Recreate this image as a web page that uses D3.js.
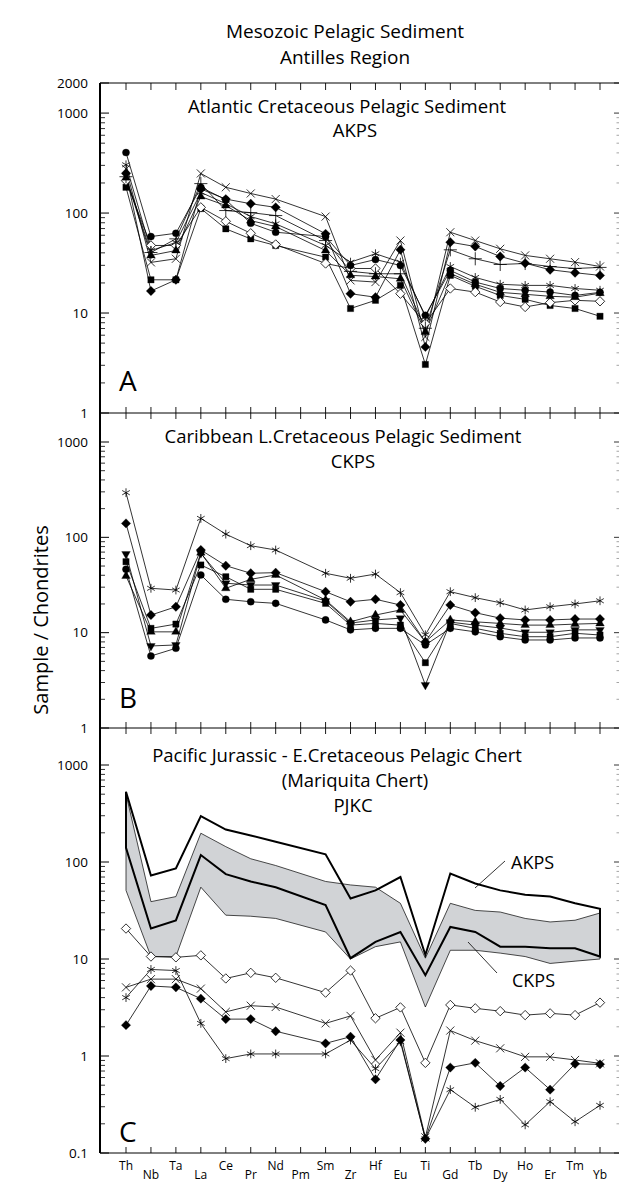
<!DOCTYPE html>
<html>
<head>
<meta charset="utf-8">
<style>
body { margin: 0; background: #fff; }
svg { display: block; font-family: "Open Sans", "Noto Sans", sans-serif; }
.sline { fill: none; stroke: #000; stroke-width: 0.8; }
.axis line, .axis path { stroke: #000; }
</style>
</head>
<body>
<svg width="619" height="1182"></svg>
<script src="https://d3js.org/d3.v7.min.js"></script>
<script>
var elements = ["Th","Nb","Ta","La","Ce","Pr","Nd","Pm","Sm","Zr","Hf","Eu","Ti","Gd","Tb","Dy","Ho","Er","Tm","Yb"];

// A: Atlantic Cretaceous pelagic sediment (AKPS)
var akpsCross       = [277, 32.1, 34.9, 249, 181, 157, 138, null, 92.2, 21.2, 20.4, 53.1, 5.77, 64.3, 53.1, 43.9, 37.7, 34.9, 32.3, 29.2];
var akpsDiamond     = [249, 16.6, 21.5, 174, 138, 124, 114, null, 62.0, 15.6, 14.4, 42.9, 4.58, 51.1, 46.3, 36.8, 31.5, 27.1, 25.3, 23.8];
var akpsPlus        = [231, 40.3, 55.2, 197, 106, 101, 94.4, null, 53.1, 26.1, 24.7, 24.7, 7.04, 42.9, 34.9, 30.6, 31.3, 29.2, 27.9, 28.6];
var akpsStar        = [304, 42.2, 50.7, 161, 124, 92.2, 78.0, null, 47.4, 32.3, 39.2, 32.3, 9.13, 29.2, 22.7, 19.4, 18.9, 18.9, 17.6, 16.9];
var akpsCircle      = [403, 58.2, 62.8, 181, 136, 79.0, 64.3, null, 58.2, 29.9, 34.3, 29.9, 9.49, 26.7, 20.4, 17.6, 16.9, 16.2, 15.0, 16.1];
var akpsOpenDiamond = [211, 47.4, 47.4, 114, 82.7, 62.8, 48.5, null, 31.3, 27.9, 27.9, 15.6, 7.85, 17.6, 16.2, 12.9, 11.5, 12.7, 13.4, 13.1];
var akpsSquare      = [181, 21.5, 21.5, 111, 69.5, 55.2, 47.4, null, 36.2, 11.1, 13.4, 18.9, 3.06, 23.8, 18.5, 15.0, 13.7, 11.9, 11.1, 9.28];
var akpsTriangle    = [226, 37.7, 42.2, 146, 119, 84.0, 73.3, null, 42.2, 23.8, 23.2, 22.0, 6.47, 24.9, 19.4, 16.1, 15.4, 14.7, 14.4, 15.8];

// B: Caribbean L.Cretaceous pelagic sediment (CKPS)
var ckpsStar     = [294, 29.2, 28.0, 158, 108, 81.7, 73.6, null, 42.0, 37.2, 41.2, 26.3, 9.5, 26.9, 23.3, 20.6, 17.3, 18.7, 20.0, 21.6];
var ckpsDiamond  = [140, 15.3, 18.7, 73.6, 50.4, 42.0, 42.6, null, 26.9, 21.1, 22.4, 19.5, 8.0, 19.5, 16.2, 14.2, 13.6, 13.6, 13.9, 13.9];
var ckpsTriangle = [39.3, 10.2, 10.2, 69.0, 29.2, 36.3, 40.3, null, 22.0, 13.0, 15.3, 17.3, 8.0, 13.6, 13.0, 12.5, 12.0, 12.0, 12.3, 12.5];
var ckpsSquare   = [55.5, 11.1, 12.3, 51.3, 38.6, 28.5, 28.5, null, 20.3, 12.0, 12.5, 12.0, 4.84, 12.5, 11.1, 9.85, 9.07, 9.07, 9.85, 9.45];
var ckpsCircle   = [46.2, 5.69, 6.86, 40.3, 22.4, 21.1, 20.3, null, 13.6, 10.7, 11.1, 11.1, 7.43, 11.1, 10.2, 9.07, 8.38, 8.38, 8.8, 8.8];
var ckpsDown     = [66.9, 7.25, 7.43, 68.0, 33.0, 31.6, 31.6, null, 21.5, 12.6, 13.6, 14.2, 2.83, 12.9, 12.0, 11.2, 10.1, 10.1, 10.7, 10.7];

// C: Pacific Jurassic - E.Cretaceous pelagic chert (PJKC) + fields
var akpsMax = [530, 72.7, 86, 297, 216, 188, 162, null, 120, 42, 51, 70, 11, 76, 60, 51, 46, 44, 37.5, 33];
var akpsMin = [140, 20.6, 25, 118, 75, 63, 55, null, 36, 10.2, 15, 19, 6.8, 21.4, 19, 13.4, 13.4, 12.9, 12.9, 10.6];
var ckpsMax = [500, 39, 44, 198, 144, 108, 92, null, 63, 58, 55, 37.5, 10.2, 37.5, 31.7, 30.5, 26.2, 24.1, 25.1, 29.8];
var ckpsMin = [51, 10.6, 10.6, 55, 28.3, 27.6, 26.2, null, 19, 10, 13.4, 15, 3.2, 12.3, 12.3, 11.5, 10.6, 9, 9.5, 10];

var pjkcOpenDiamond = [20.6, 10.6, 10.4, 10.9, 6.3, 7.2, 6.4, null, 4.5, 7.6, 2.45, 3.17, 0.85, 3.36, 3.1, 2.9, 2.64, 2.75, 2.64, 3.55];
var pjkcCross       = [5.1, 6.2, 6.2, 4.95, 2.85, 3.3, 3.2, null, 2.17, 2.59, 0.91, 1.74, 0.145, 1.83, 1.44, 1.2, 0.98, 0.98, 0.91, 0.84];
var pjkcDiamond     = [2.08, 5.27, 5.1, 3.9, 2.4, 2.4, 1.8, null, 1.35, 1.58, 0.575, 1.46, 0.14, 0.76, 0.85, 0.49, 0.76, 0.45, 0.83, 0.82];
var pjkcStar        = [4.0, 7.8, 7.6, 2.17, 0.94, 1.05, 1.05, null, 1.05, 1.46, 0.74, 1.4, 0.14, 0.45, 0.296, 0.357, 0.195, 0.338, 0.21, 0.31];

var svg = d3.select("svg");
var left = 100, right = 619;
var x = d3.scalePoint().domain(elements).range([126, 600]);

var symbols = {
  circle: d3.symbolCircle, dia: d3.symbolDiamond2, odia: d3.symbolDiamond2,
  sq: d3.symbolSquare, tri: d3.symbolTriangle, vtri: d3.symbolTriangle,
  cross: d3.symbolTimes, plus: d3.symbolPlus, ast: d3.symbolAsterisk
};
var sizes = {circle: 40, dia: 56, odia: 56, sq: 40, tri: 32, vtri: 32, cross: 44, plus: 58, ast: 54};
var filled = {circle: true, dia: true, sq: true, tri: true, vtri: true};

var panels = [
  {
    y: d3.scaleLog().domain([1, 2000]).range([413, 83]),
    majors: [1, 10, 100, 1000, 2000], letter: "A", letterY: 391,
    titles: [["Atlantic Cretaceous Pelagic Sediment", 347, 113], ["AKPS", 355, 137]],
    series: [
      {v: akpsSquare, m: "sq"}, {v: akpsOpenDiamond, m: "odia"}, {v: akpsTriangle, m: "tri"},
      {v: akpsCircle, m: "circle"}, {v: akpsStar, m: "ast"}, {v: akpsPlus, m: "plus"},
      {v: akpsDiamond, m: "dia"}, {v: akpsCross, m: "cross"}
    ]
  },
  {
    y: d3.scaleLog().domain([1, 1000]).range([728, 442]),
    majors: [1, 10, 100, 1000], letter: "B", letterY: 708,
    titles: [["Caribbean L.Cretaceous Pelagic Sediment", 343, 443], ["CKPS", 353, 468]],
    series: [
      {v: ckpsCircle, m: "circle"}, {v: ckpsDown, m: "vtri"}, {v: ckpsSquare, m: "sq"},
      {v: ckpsTriangle, m: "tri"}, {v: ckpsDiamond, m: "dia"}, {v: ckpsStar, m: "ast"}
    ]
  },
  {
    y: d3.scaleLog().domain([0.1, 1000]).range([1153, 765]),
    majors: [0.1, 1, 10, 100, 1000], letter: "C", letterY: 1142,
    titles: [["Pacific Jurassic - E.Cretaceous Pelagic Chert", 337, 762], ["(Mariquita Chert)", 355, 787], ["PJKC", 353, 812]],
    series: [
      {v: pjkcStar, m: "ast"}, {v: pjkcDiamond, m: "dia"}, {v: pjkcCross, m: "cross"}, {v: pjkcOpenDiamond, m: "odia"}
    ]
  }
];

function pts(values) {
  return elements.map(function(e, i) { return {el: e, v: values[i]}; })
    .filter(function(d) { return d.v != null; });
}

function fmt(v) { return v < 1 ? String(v) : d3.format("d")(v); }

// title
svg.append("text").attr("x", 345).attr("y", 38).attr("text-anchor", "middle")
  .attr("font-size", 19).text("Mesozoic Pelagic Sediment");
svg.append("text").attr("x", 345).attr("y", 64).attr("text-anchor", "middle")
  .attr("font-size", 19).text("Antilles Region");

svg.append("text")
  .attr("transform", "translate(48,620) rotate(-90)")
  .attr("text-anchor", "middle").attr("font-size", 20)
  .text("Sample / Chondrites");

var C = panels[2];

// fields in panel C
var fieldLine = d3.line().x(function(d) { return x(d.el); }).y(function(d) { return C.y(d.v); })
  .curve(d3.curveLinearClosed);
svg.append("path")
  .attr("d", fieldLine(pts(ckpsMax).concat(pts(ckpsMin).reverse())))
  .attr("fill", "#d1d3d6").attr("stroke", "#000").attr("stroke-width", 0.7);
svg.append("path")
  .attr("d", fieldLine(pts(akpsMax).concat(pts(akpsMin).reverse())))
  .attr("fill", "none").attr("stroke", "#000").attr("stroke-width", 2);

svg.append("line").attr("x1", 505).attr("y1", 861).attr("x2", 475).attr("y2", 888)
  .attr("stroke", "#000").attr("stroke-width", 0.8);
svg.append("text").attr("x", 511).attr("y", 869).attr("font-size", 18).text("AKPS");
svg.append("line").attr("x1", 497).attr("y1", 973).attr("x2", 468).attr("y2", 942)
  .attr("stroke", "#000").attr("stroke-width", 0.8);
svg.append("text").attr("x", 512).attr("y", 987).attr("font-size", 18).text("CKPS");

panels.forEach(function(p, pi) {
  var g = svg.append("g");
  var y = p.y;
  var line = d3.line().x(function(d) { return x(d.el); }).y(function(d) { return y(d.v); });

  p.titles.forEach(function(t) {
    g.append("text").attr("x", t[1]).attr("y", t[2]).attr("text-anchor", "middle")
      .attr("font-size", 18.5).text(t[0]);
  });
  g.append("text").attr("x", 119).attr("y", p.letterY).attr("font-size", 28).text(p.letter);

  // y ticks
  var d0 = y.domain()[0], d1 = y.domain()[1];
  var minors = [];
  for (var e = Math.floor(Math.log10(d0)); e <= Math.ceil(Math.log10(d1)); e++) {
    for (var k = 2; k <= 9; k++) {
      var v = k * Math.pow(10, e);
      if (v > d0 && v < d1) minors.push(v);
    }
  }
  var ax = g.append("g").attr("class", "axis");
  ax.selectAll(".maj").data(p.majors).enter().append("line")
    .attr("x1", left).attr("x2", left + 9)
    .attr("y1", function(d) { return y(d); }).attr("y2", function(d) { return y(d); })
    .attr("stroke-width", 1);
  ax.selectAll(".min").data(minors).enter().append("line")
    .attr("x1", left).attr("x2", left + 5)
    .attr("y1", function(d) { return y(d); }).attr("y2", function(d) { return y(d); })
    .attr("stroke-width", 0.8);
  ax.selectAll(".rmaj").data(p.majors).enter().append("line")
    .attr("x1", right).attr("x2", right - 5)
    .attr("y1", function(d) { return y(d); }).attr("y2", function(d) { return y(d); })
    .attr("stroke-width", 0.8);
  ax.selectAll(".rmin").data(minors).enter().append("line")
    .attr("x1", right).attr("x2", right - 2.5)
    .attr("y1", function(d) { return y(d); }).attr("y2", function(d) { return y(d); })
    .attr("stroke-width", 0.6).style("stroke", "#666");
  ax.selectAll("text").data(p.majors).enter().append("text")
    .attr("x", 88).attr("y", function(d) { return y(d); }).attr("dy", "0.35em")
    .attr("text-anchor", "end").attr("font-size", 13.5).text(fmt);

  // bottom axis of the panel
  var by = y.range()[0];
  g.append("line").attr("x1", left).attr("x2", right).attr("y1", by).attr("y2", by)
    .attr("stroke", "#000").attr("stroke-width", 1);
  g.selectAll(".xt").data(elements).enter().append("line")
    .attr("x1", function(d) { return x(d); }).attr("x2", function(d) { return x(d); })
    .attr("y1", by - 6).attr("y2", pi < 2 ? by + 6 : by)
    .attr("stroke", "#000").attr("stroke-width", 0.9);

  // series
  p.series.forEach(function(s) {
    g.append("path").attr("class", "sline").attr("d", line(pts(s.v)));
  });
  p.series.forEach(function(s) {
    var sym = d3.symbol().type(symbols[s.m]).size(sizes[s.m]);
    g.append("g").selectAll("path").data(pts(s.v)).enter().append("path")
      .attr("transform", function(d) {
        return "translate(" + x(d.el) + "," + y(d.v) + ")" + (s.m === "vtri" ? " rotate(180)" : "");
      })
      .attr("d", sym)
      .attr("fill", filled[s.m] ? "#000" : (s.m === "odia" ? "#fff" : "none"))
      .attr("stroke", "#000")
      .attr("stroke-width", filled[s.m] ? 0.3 : 0.8);
  });
});

// frame: top line of panel A and left axis
var topY = panels[0].y(2000);
svg.append("line").attr("x1", left).attr("x2", right).attr("y1", topY).attr("y2", topY)
  .attr("stroke", "#000").attr("stroke-width", 1);
svg.selectAll(".tt").data(elements).enter().append("line")
  .attr("x1", function(d) { return x(d); }).attr("x2", function(d) { return x(d); })
  .attr("y1", topY).attr("y2", topY + 7)
  .attr("stroke", "#000").attr("stroke-width", 0.9);
svg.append("line").attr("x1", left).attr("x2", left)
  .attr("y1", topY).attr("y2", panels[2].y(0.1))
  .attr("stroke", "#000").attr("stroke-width", 2);

// element labels, staggered
svg.selectAll(".el").data(elements).enter().append("text")
  .attr("x", function(d) { return x(d); })
  .attr("y", function(d, i) { return i % 2 ? 1179 : 1170; })
  .attr("text-anchor", "middle").attr("font-size", 12)
  .text(function(d) { return d; });
</script>
</body>
</html>
